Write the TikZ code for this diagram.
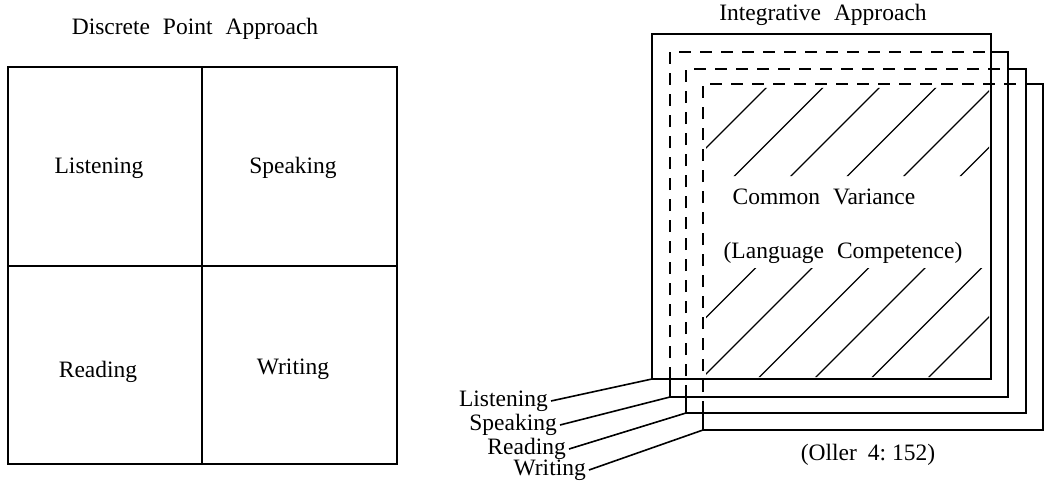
\documentclass[tikz,border=0pt]{standalone}
\usepackage{fontspec}
\setmainfont[WordSpace=2.2]{Liberation Serif}
\begin{document}
\begin{tikzpicture}[x=1pt,y=1pt,
  lbl/.style={font=\fontsize{23.5}{26}\selectfont, inner sep=0pt},
  frame/.style={line width=2pt},
  hidden/.style={line width=2pt, dash pattern=on 12pt off 9pt},
  hatch/.style={line width=1.3pt},
  leader/.style={line width=1.6pt}]
\fill[white] (0,0) rectangle (1045,-487);
\useasboundingbox (0,0) rectangle (1045,-487);

% ---------- Discrete Point Approach ----------
\node[lbl] (t1) at (195,-29) {Discrete Point Approach};
\draw[frame] (8,-67) rectangle (397,-464);
\draw[frame] (202,-67) -- (202,-464);
\draw[frame] (8,-266) -- (397,-266);
\node[lbl] (dl) at (99,-168) {Listening};
\node[lbl] (ds) at (293,-168) {Speaking};
\node[lbl] (dr) at (98,-372) {Reading};
\node[lbl] (dw) at (293,-369) {Writing};

% ---------- Integrative Approach ----------
\node[lbl] (t2) at (823,-15) {Integrative Approach};

% hatch (common variance)
\begin{scope}
  \clip (706,-88) rectangle (989,-176) (706,-268) rectangle (989,-377);
  \foreach \c in {854,910.5,967,1023.5,1080,1136.5,1193,1249.5,1306}
    \draw[hatch] (\c-420,-420) -- (\c-60,-60);
\end{scope}

% Listening box (front, solid)
\draw[frame] (652,-34) rectangle (991,-379);
\coordinate (cL) at (652,-379);
% Speaking box
\draw[frame] (991,-52) -- (1008,-52) -- (1008,-397) -- (670,-397) -- (670,-379);
\draw[hidden] (670,-379) -- (670,-52) -- (991,-52);
\coordinate (cS) at (670,-397);
% Reading box
\draw[frame] (1008,-69) -- (1026,-69) -- (1026,-413) -- (686,-413) -- (686,-397);
\draw[hidden] (686,-397) -- (686,-69) -- (1008,-69);
\coordinate (cR) at (686,-413);
% Writing box
\draw[frame] (1026,-84) -- (1043,-84) -- (1043,-430) -- (703,-430) -- (703,-413);
\draw[hidden] (703,-413) -- (703,-84) -- (1026,-84);
\coordinate (cW) at (703,-430);

\node[lbl] (cv) at (824,-197) {Common Variance};
\node[lbl] (lc) at (843,-253) {(Language Competence)};

% labels with leaders
\node[lbl, anchor=east, inner xsep=3pt] (il) at (551,-401) {Listening};
\node[lbl, anchor=east, inner xsep=3pt] (is) at (560,-425) {Speaking};
\node[lbl, anchor=east, inner xsep=3pt] (ir) at (569,-449) {Reading};
\node[lbl, anchor=east, inner xsep=3pt] (iw) at (589,-470) {Writing};
\draw[leader] (il.east) -- (cL);
\draw[leader] (is.east) -- (cS);
\draw[leader] (ir.east) -- (cR);
\draw[leader] (iw.east) -- (cW);

\node[lbl] (src) at (868,-455) {(Oller\hspace{11pt}4:\hspace{6pt}152)};
\end{tikzpicture}
\end{document}
